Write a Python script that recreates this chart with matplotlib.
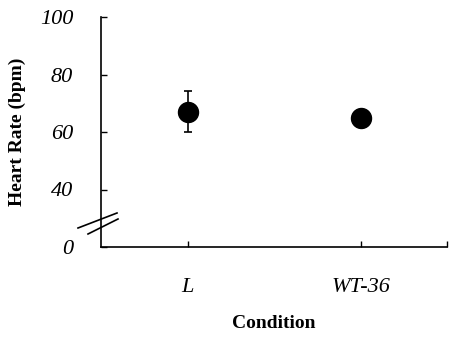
import matplotlib
matplotlib.use("Agg")
import matplotlib.pyplot as plt
from matplotlib.lines import Line2D

# Data
conditions = ["L", "WT-36"]
heart_rate = [67.1, 65.0]
heart_rate_err = [7.2, 0.5]

# broken y axis: the "0" label sits where 20 would be
ytick_pos = [20, 40, 60, 80, 100]
ytick_labels = ["0", "40", "60", "80", "100"]

plt.rcParams["font.family"] = ["Liberation Serif", "DejaVu Serif"]

W, H = 470, 338
fig = plt.figure(figsize=(W / 100, H / 100), dpi=100)
ax = fig.add_axes([101 / W, 1 - 247 / H, (447 - 101) / W, (247 - 17) / H])

xpos = [0.5, 1.5]
ax.errorbar(xpos, heart_rate, yerr=heart_rate_err, fmt="o", color="black",
            markersize=14.4, elinewidth=1.2, capsize=2.6, capthick=1.2)

ax.set_xlim(0, 2)
ax.set_ylim(20, 100)

ax.set_yticks(ytick_pos)
ax.set_yticklabels(ytick_labels, fontstyle="italic", fontsize=16)
ax.set_xticks(xpos + [2])
ax.set_xticklabels(conditions + [""], fontstyle="italic", fontsize=16)

ax.tick_params(axis="y", direction="in", length=4, width=1, pad=20)
ax.tick_params(axis="x", direction="in", length=4, width=1, pad=22)

for s in ["top", "right"]:
    ax.spines[s].set_visible(False)
for s in ["left", "bottom"]:
    ax.spines[s].set_linewidth(1.2)

ax.set_ylabel("Heart Rate (bpm)", fontweight="bold", fontsize=14, labelpad=10)
ax.set_xlabel("Condition", fontweight="bold", fontsize=14, labelpad=13)

# axis break marks
def px(x, y):
    return (x / W, 1 - y / H)

for (x0, y0), (x1, y1) in [((78, 228), (117, 213)), ((88, 234), (118, 219))]:
    p0, p1 = px(x0, y0), px(x1, y1)
    fig.add_artist(Line2D([p0[0], p1[0]], [p0[1], p1[1]],
                          transform=fig.transFigure, color="black", lw=1.2))

fig.savefig("out.png", dpi=100)
